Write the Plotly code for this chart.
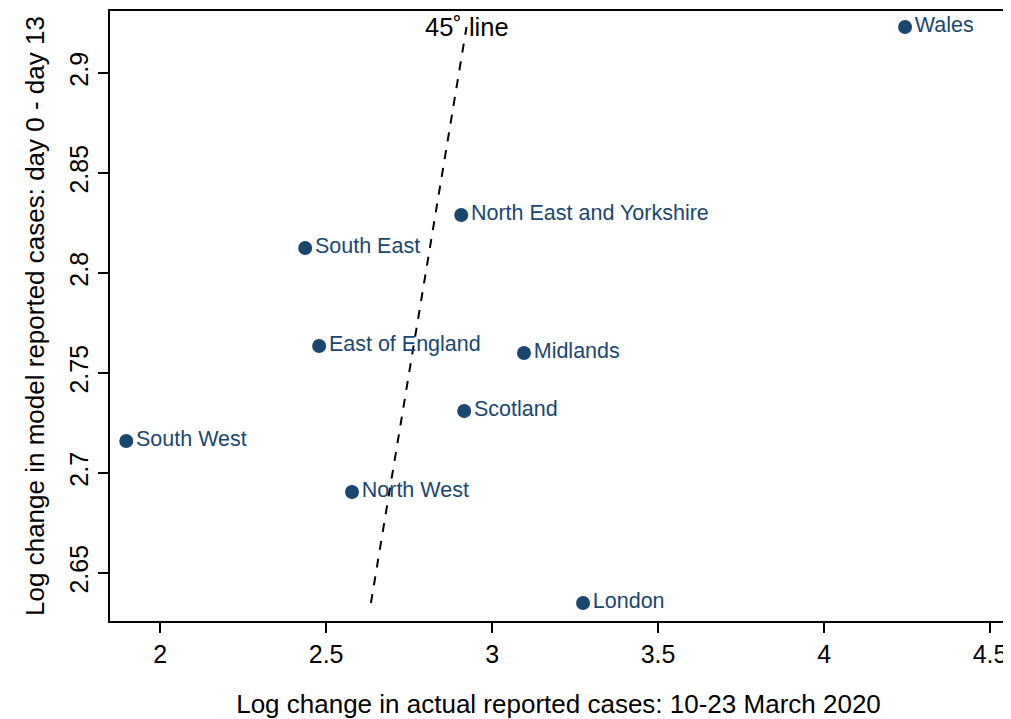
import plotly.graph_objects as go

regions = ["Wales", "North East and Yorkshire", "South East", "East of England",
           "Midlands", "Scotland", "South West", "North West", "London"]
actual_change = [4.244, 2.907, 2.437, 2.479, 3.096, 2.916, 1.898, 2.578, 3.274]
model_change = [2.923, 2.829, 2.8125, 2.7635, 2.760, 2.731, 2.716, 2.6905, 2.635]

x_ticks = [2, 2.5, 3, 3.5, 4, 4.5]
x_tick_labels = ["2", "2.5", "3", "3.5", "4", "4.5"]
y_ticks = [2.65, 2.7, 2.75, 2.8, 2.85, 2.9]
y_tick_labels = ["2.65", "2.7", "2.75", "2.8", "2.85", "2.9"]

navy = "#1a476f"
font_family = "Liberation Sans, Arial, Helvetica, sans-serif"

line_lo = min(model_change)
line_hi = max(model_change)

fig = go.Figure()
fig.add_trace(go.Scatter(
    x=[line_lo, line_hi], y=[line_lo, line_hi], mode="lines",
    line=dict(color="black", width=2, dash="dash"), hoverinfo="skip",
    showlegend=False))
fig.add_trace(go.Scatter(
    x=actual_change, y=model_change, mode="markers+text",
    text=regions, textposition="middle right",
    textfont=dict(color=navy, size=21.5, family=font_family),
    marker=dict(color=navy, size=14), showlegend=False))

fig.add_annotation(x=line_hi, y=line_hi, text="45˚ line", showarrow=False,
                   font=dict(color="black", size=25.5, family=font_family),
                   xanchor="center", yanchor="middle")

fig.update_layout(
    width=1003, height=711,
    margin=dict(l=102, r=4, t=3, b=98),
    paper_bgcolor="white", plot_bgcolor="white",
    font=dict(family=font_family, color="black"),
    xaxis=dict(range=[1.849, 4.551], tickvals=x_ticks, ticktext=x_tick_labels,
               automargin=False,
               showgrid=False, zeroline=False, showline=True, linecolor="black",
               linewidth=2, mirror=True, ticks="outside", ticklen=10,
               tickwidth=1.5, tickcolor="black",
               tickfont=dict(size=25, color="black"),
               title=dict(text="Log change in actual reported cases: 10-23 March 2020",
                          font=dict(size=26, color="black"), standoff=28)),
    yaxis=dict(range=[2.626, 2.931], tickvals=y_ticks, ticktext=y_tick_labels,
               automargin=False,
               showgrid=False, zeroline=False, showline=True, linecolor="black",
               linewidth=2, mirror=True, ticks="outside", ticklen=10,
               tickwidth=1.5, tickcolor="black", tickangle=-90,
               tickfont=dict(size=25, color="black"),
               title=dict(text="Log change in model reported cases: day 0 - day 13",
                          font=dict(size=26, color="black"), standoff=13)),
)

fig.write_html("out.html")
